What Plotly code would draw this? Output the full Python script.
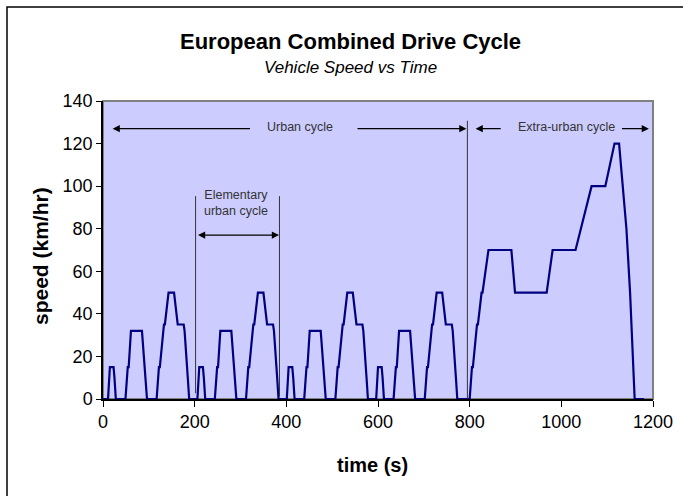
import plotly.graph_objects as go

# Time (s) and speed (km/h) breakpoints of the NEDC drive cycle
time_s = [
    0, 11, 15, 23, 25, 28, 49, 54, 56, 61, 85, 93, 96, 117, 122, 124, 133, 135, 143, 155, 163, 176, 178, 185, 188,
    195, 206, 210, 218, 220, 223, 244, 249, 251, 256, 280, 288, 291, 312, 317, 319, 328, 330, 338, 350, 358, 371, 373, 380, 383,
    390, 401, 405, 413, 415, 418, 439, 444, 446, 451, 475, 483, 486, 507, 512, 514, 523, 525, 533, 545, 553, 566, 568, 575, 578,
    585, 596, 600, 608, 610, 613, 634, 639, 641, 646, 670, 678, 681, 702, 707, 709, 718, 720, 728, 740, 748, 761, 763, 770, 773,
    780, 800, 805, 807, 816, 818, 826, 828, 841, 891, 899, 968, 981, 1031, 1066, 1096, 1116, 1126, 1142, 1150, 1160, 1180,
]
speed_kmh = [
    0, 0, 15, 15, 10, 0, 0, 15, 15, 32, 32, 10, 0, 0, 15, 15, 35, 35, 50, 50, 35, 35, 32, 10, 0,
    0, 0, 15, 15, 10, 0, 0, 15, 15, 32, 32, 10, 0, 0, 15, 15, 35, 35, 50, 50, 35, 35, 32, 10, 0,
    0, 0, 15, 15, 10, 0, 0, 15, 15, 32, 32, 10, 0, 0, 15, 15, 35, 35, 50, 50, 35, 35, 32, 10, 0,
    0, 0, 15, 15, 10, 0, 0, 15, 15, 32, 32, 10, 0, 0, 15, 15, 35, 35, 50, 50, 35, 35, 32, 10, 0,
    0, 0, 15, 15, 35, 35, 50, 50, 70, 70, 50, 50, 70, 70, 100, 100, 120, 120, 80, 50, 0, 0,
]

x_ticks = [0, 200, 400, 600, 800, 1000, 1200]
y_ticks = [0, 20, 40, 60, 80, 100, 120, 140]

title_text = "European Combined Drive Cycle"
subtitle_text = "Vehicle Speed vs Time"
x_title = "time (s)"
y_title = "speed (km/hr)"

FONT = "Arial, Liberation Sans, sans-serif"

fig = go.Figure()
fig.add_trace(go.Scatter(
    x=time_s, y=speed_kmh, mode="lines",
    line=dict(color="#000080", width=2.2),
    hoverinfo="x+y", showlegend=False,
))

W, H = 683, 496
L, R, T, B = 103, 30, 101, 97
pw, ph = W - L - R, H - T - B


def px(xp):
    return (xp - L) / pw


def py(yp):
    return (H - B - yp) / ph


shapes = [
    # outer chart frame (left/top visible)
    dict(type="rect", xref="paper", yref="paper", x0=px(7), x1=px(720), y0=py(530), y1=py(7),
         line=dict(color="black", width=1.5), fillcolor="rgba(0,0,0,0)", layer="below"),
    # plot area frame
    dict(type="rect", xref="paper", yref="paper", x0=0, x1=1, y0=0, y1=1,
         line=dict(color="#808080", width=2), fillcolor="rgba(0,0,0,0)", layer="below"),
    # elementary urban cycle boundaries
    dict(type="line", xref="x", yref="y", x0=202, x1=202, y0=2.7, y1=95.3,
         line=dict(color="#333333", width=1)),
    dict(type="line", xref="x", yref="y", x0=385, x1=385, y0=1.1, y1=95.3,
         line=dict(color="#333333", width=1)),
    # urban / extra-urban boundary
    dict(type="line", xref="x", yref="y", x0=795, x1=795, y0=0, y1=130.7,
         line=dict(color="#333333", width=1)),
]

arrow_common = dict(xref="x", yref="y", axref="x", ayref="y", text="", showarrow=True,
                    arrowhead=2, arrowsize=1.2, arrowwidth=1.2, arrowcolor="black")

annotations = [
    dict(text="<b>" + title_text + "</b>", xref="paper", yref="paper", x=px(350), y=py(41),
         showarrow=False, font=dict(family=FONT, size=22, color="black"), xanchor="center", yanchor="middle"),
    dict(text="<i>" + subtitle_text + "</i>", xref="paper", yref="paper", x=px(350), y=py(67),
         showarrow=False, font=dict(family=FONT, size=17, color="black"), xanchor="center", yanchor="middle"),
    dict(text="<b>" + x_title + "</b>", xref="paper", yref="paper", x=px(372), y=py(465),
         showarrow=False, font=dict(family=FONT, size=20, color="black"), xanchor="center", yanchor="middle"),
    dict(text="<b>" + y_title + "</b>", xref="paper", yref="paper", x=px(40), y=py(256),
         showarrow=False, textangle=-90, font=dict(family=FONT, size=21, color="black"),
         xanchor="center", yanchor="middle"),
    # Urban cycle
    dict(arrow_common, x=21, y=127, ax=324, ay=127),
    dict(arrow_common, x=793, y=127, ax=552, ay=127),
    dict(text="Urban cycle", xref="x", yref="y", x=430, y=128, showarrow=False,
         font=dict(family=FONT, size=12.5, color="#333333")),
    # Elementary urban cycle
    dict(arrow_common, x=384, y=77, ax=204, ay=77, arrowside="end+start"),
    dict(text="Elementary<br>urban cycle", xref="x", yref="y", x=291, y=92, showarrow=False,
         font=dict(family=FONT, size=12.5, color="#333333")),
    # Extra-urban cycle
    dict(arrow_common, x=813, y=127, ax=871, ay=127),
    dict(arrow_common, x=1191, y=127, ax=1129, ay=127),
    dict(text="Extra-urban cycle", xref="x", yref="y", x=1012, y=128, showarrow=False,
         font=dict(family=FONT, size=12.5, color="#333333")),
]

fig.update_layout(
    width=W, height=H,
    margin=dict(l=L, r=R, t=T, b=B, autoexpand=False),
    paper_bgcolor="white",
    plot_bgcolor="#CCCCFF",
    font=dict(family=FONT, size=18, color="black"),
    shapes=shapes,
    annotations=annotations,
    showlegend=False,
)
fig.update_xaxes(
    range=[0, 1200], tickvals=x_ticks, ticktext=[str(v) for v in x_ticks],
    showgrid=False, zeroline=False, showline=True, linecolor="black", linewidth=1.5,
    ticks="outside", ticklen=6, tickcolor="black", tickwidth=1,
    tickfont=dict(family=FONT, size=18, color="black"),
)
fig.update_yaxes(
    range=[0, 140], tickvals=y_ticks, ticktext=[str(v) for v in y_ticks],
    showgrid=False, zeroline=False, showline=True, linecolor="black", linewidth=1.5,
    ticks="outside", ticklen=5, tickcolor="black", tickwidth=1,
    tickfont=dict(family=FONT, size=18, color="black"),
)

fig.write_html(
    "out.html",
    config={"displayModeBar": False},
    post_script="document.body.style.margin='0px';document.body.style.overflow='hidden';",
)
